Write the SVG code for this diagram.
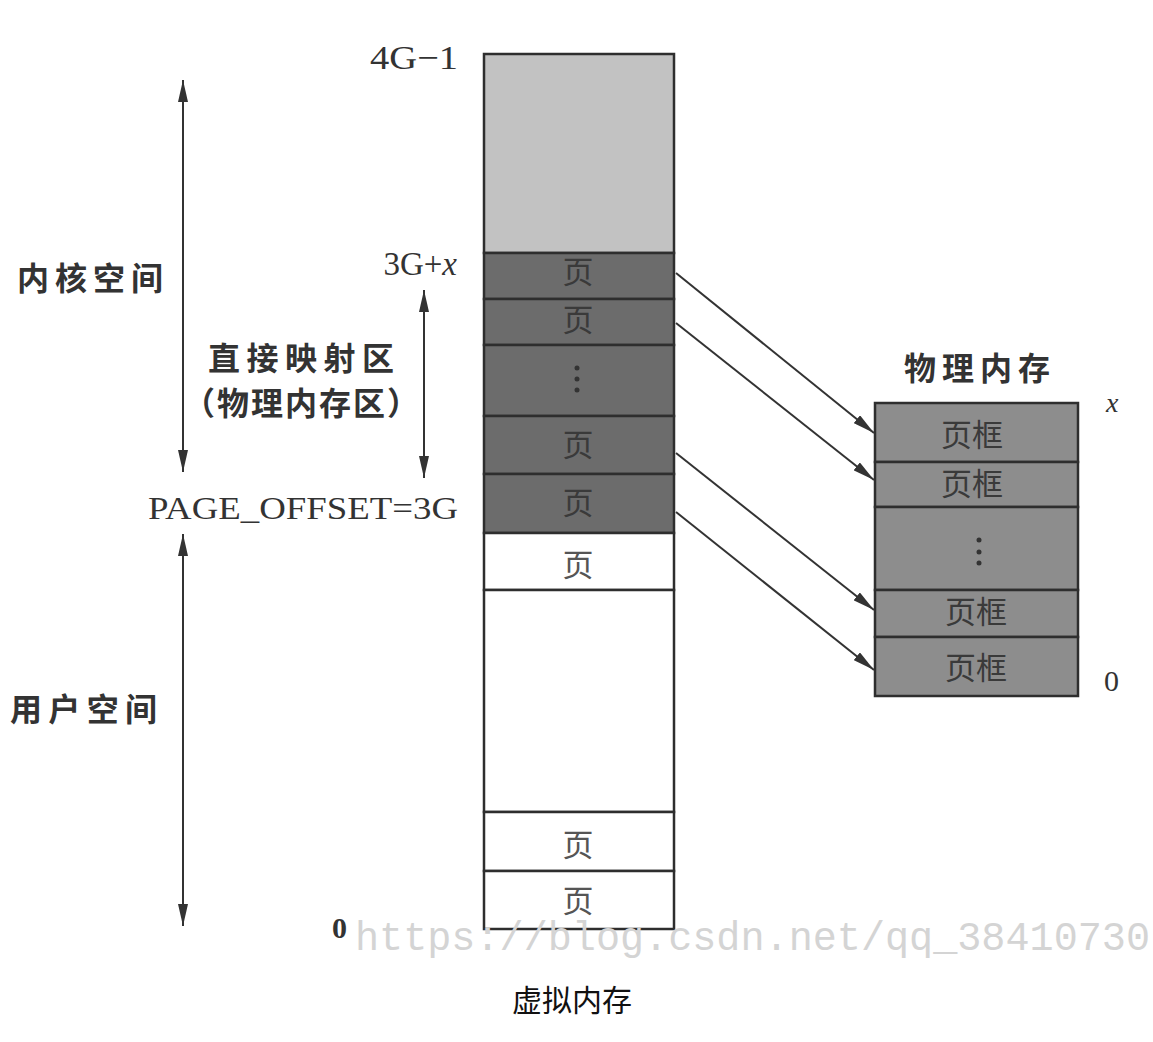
<svg xmlns="http://www.w3.org/2000/svg" width="1153" height="1042" viewBox="0 0 1153 1042">
<style>
.box{stroke:#2e2e2e;stroke-width:2.5}
.light{fill:#c2c2c2}
.dark{fill:#6c6c6c}
.white{fill:#ffffff}
.phys{fill:#8d8d8d}
.pg{font-family:"Noto Sans CJK SC",sans-serif;font-size:31px;fill:#3a3a3a;text-anchor:middle}
.pgw{font-family:"Noto Sans CJK SC",sans-serif;font-size:31px;fill:#555;text-anchor:middle}
.lbl{font-family:"Noto Sans CJK SC",sans-serif;font-size:32px;fill:#333;font-weight:bold}
.num{font-family:"Liberation Serif",serif;fill:#333}
.conn{stroke:#333;stroke-width:2;fill:none}
.dot{fill:#333}
</style>
<defs>
<marker id="ah" viewBox="0 0 22 10" markerWidth="22" markerHeight="10" refX="22" refY="5" orient="auto-start-reverse" markerUnits="userSpaceOnUse">
<path d="M0,0 L22,5 L0,10 z" fill="#333"/>
</marker>
</defs>

<g id="virtual-memory">
<rect class="box light" x="484" y="54" width="190" height="199"/>
<rect class="box dark" x="484" y="253" width="190" height="46"/>
<rect class="box dark" x="484" y="299" width="190" height="46"/>
<rect class="box dark" x="484" y="345" width="190" height="71"/>
<rect class="box dark" x="484" y="416" width="190" height="58"/>
<rect class="box dark" x="484" y="474" width="190" height="59"/>
<rect class="box white" x="484" y="533" width="190" height="57"/>
<rect class="box white" x="484" y="590" width="190" height="222"/>
<rect class="box white" x="484" y="812" width="190" height="59"/>
<rect class="box white" x="484" y="871" width="190" height="58"/>
<text class="pg" x="578" y="283">页</text>
<text class="pg" x="578" y="331">页</text>
<circle class="dot" cx="577" cy="368" r="2.5"/>
<circle class="dot" cx="577" cy="379" r="2.5"/>
<circle class="dot" cx="577" cy="390" r="2.5"/>
<text class="pg" x="578" y="456">页</text>
<text class="pg" x="578" y="514">页</text>
<text class="pgw" x="578" y="576">页</text>
<text class="pgw" x="578" y="856">页</text>
<text class="pgw" x="578" y="912">页</text>
</g>

<g id="physical-memory">
<rect class="box phys" x="875" y="403" width="203" height="59"/>
<rect class="box phys" x="875" y="462" width="203" height="45"/>
<rect class="box phys" x="875" y="507" width="203" height="83"/>
<rect class="box phys" x="875" y="590" width="203" height="47"/>
<rect class="box phys" x="875" y="637" width="203" height="59"/>
<text class="pg" x="972" y="446">页框</text>
<text class="pg" x="972" y="495">页框</text>
<circle class="dot" cx="979" cy="540" r="2.5"/>
<circle class="dot" cx="979" cy="552" r="2.5"/>
<circle class="dot" cx="979" cy="563" r="2.5"/>
<text class="pg" x="976" y="623">页框</text>
<text class="pg" x="976" y="679">页框</text>
</g>

<g id="labels">
<text class="num" x="458" y="69" font-size="34" text-anchor="end" textLength="88" lengthAdjust="spacingAndGlyphs">4G−1</text>
<text class="num" x="457" y="275" font-size="33" text-anchor="end">3G+<tspan font-style="italic">x</tspan></text>
<text class="num" x="148" y="519" font-size="32" textLength="310" lengthAdjust="spacingAndGlyphs">PAGE_OFFSET=3G</text>
<text class="lbl" x="17" y="290" textLength="146" lengthAdjust="spacing">内核空间</text>
<text class="lbl" x="10" y="721" textLength="147" lengthAdjust="spacing">用户空间</text>
<text class="lbl" x="208" y="370" textLength="186" lengthAdjust="spacing">直接映射区</text>
<text class="lbl" x="183" y="415" textLength="236" lengthAdjust="spacing">（物理内存区）</text>
<text class="lbl" x="904" y="380" textLength="146" lengthAdjust="spacing">物理内存</text>
<text class="num" x="1106" y="412" font-size="28" font-style="italic">x</text>
<text class="num" x="1104" y="691" font-size="30">0</text>
<text class="num" x="332" y="938" font-size="30" font-weight="bold">0</text>
<text x="355" y="950" font-family="Liberation Mono, monospace" font-size="40" fill="#d4d4d4" textLength="795" lengthAdjust="spacingAndGlyphs">https://blog.csdn.net/qq_38410730</text>
<text x="572" y="1011" font-family="Noto Sans CJK SC, sans-serif" font-size="30" fill="#111" text-anchor="middle">虚拟内存</text>
</g>

<g id="connectors">
<line class="conn" x1="183" y1="80" x2="183" y2="472" marker-start="url(#ah)" marker-end="url(#ah)"/>
<line class="conn" x1="183" y1="534" x2="183" y2="926" marker-start="url(#ah)" marker-end="url(#ah)"/>
<line class="conn" x1="424" y1="290" x2="424" y2="478" marker-start="url(#ah)" marker-end="url(#ah)"/>
<line class="conn" x1="676" y1="273" x2="874" y2="433" marker-end="url(#ah)"/>
<line class="conn" x1="676" y1="323" x2="874" y2="480" marker-end="url(#ah)"/>
<line class="conn" x1="676" y1="453" x2="874" y2="610" marker-end="url(#ah)"/>
<line class="conn" x1="676" y1="512" x2="874" y2="670" marker-end="url(#ah)"/>
</g>
</svg>
